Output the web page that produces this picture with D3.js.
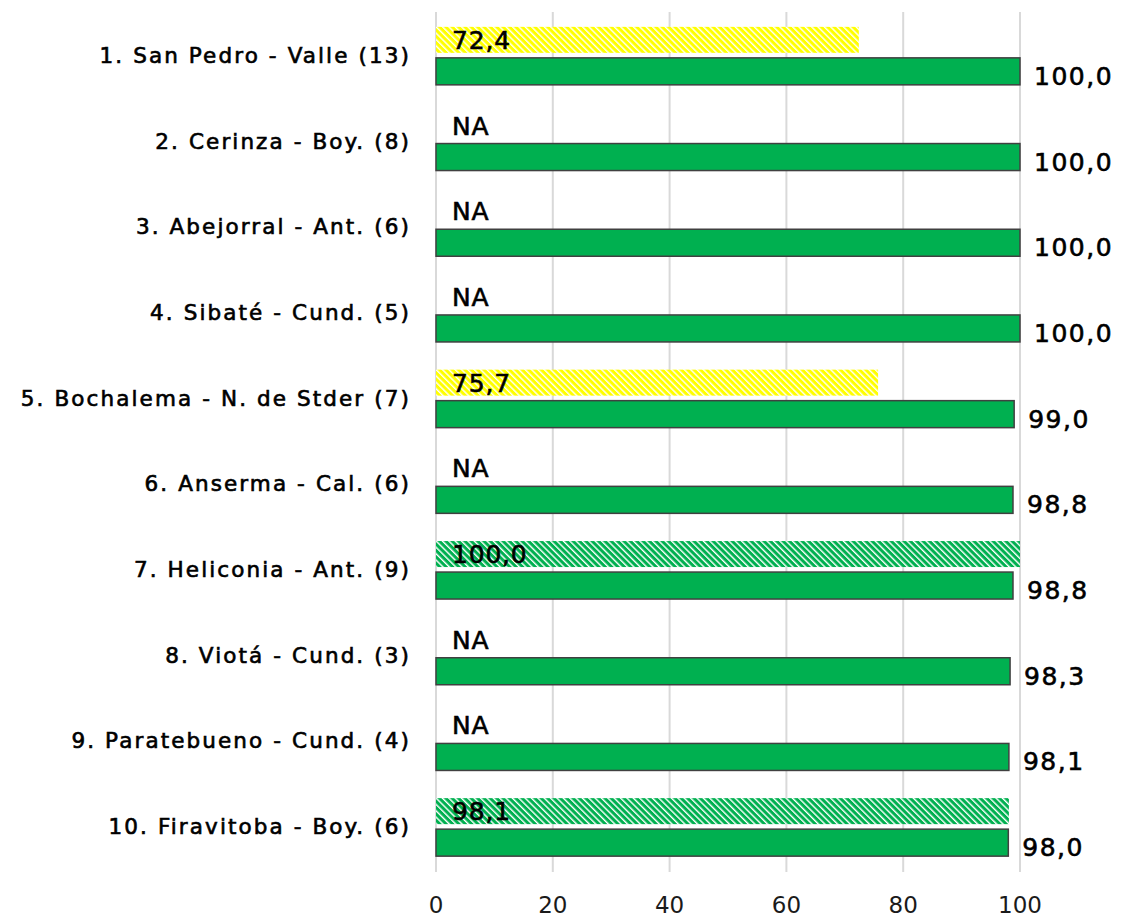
<!DOCTYPE html>
<html>
<head>
<meta charset="utf-8">
<script src="https://cdn.jsdelivr.net/npm/d3@7"></script>
<style>
  body { margin: 0; background: #fff; }
  text { font-family: "DejaVu Sans", "Open Sans", sans-serif; }
</style>
</head>
<body>
<svg width="1121" height="918"></svg>
<script>
var categories = ["1. San Pedro - Valle (13)", "2. Cerinza - Boy. (8)", "3. Abejorral - Ant. (6)",
  "4. Sibaté - Cund. (5)", "5. Bochalema - N. de Stder (7)", "6. Anserma - Cal. (6)",
  "7. Heliconia - Ant. (9)", "8. Viotá - Cund. (3)", "9. Paratebueno - Cund. (4)", "10. Firavitoba - Boy. (6)"];
var mainValues = [100.0, 100.0, 100.0, 100.0, 99.0, 98.8, 98.8, 98.3, 98.1, 98.0];
var prevValues = [72.4, null, null, null, 75.7, null, 100.0, null, null, 98.1];
var prevColors = ["yellow", null, null, null, "yellow", null, "green", null, null, "green"];
var ticks = [0, 20, 40, 60, 80, 100];

var svg = d3.select("svg"),
    margin = {top: 15, right: 101, bottom: 46, left: 436},
    width = +svg.attr("width") - margin.left - margin.right,
    height = +svg.attr("height") - margin.top - margin.bottom;

var fmt = function(v) { return d3.format(".1f")(v).replace(".", ","); };

// hatch patterns
var defs = svg.append("defs");
function hatch(id, color) {
  var p = defs.append("pattern")
      .attr("id", id)
      .attr("patternUnits", "userSpaceOnUse")
      .attr("width", 4.5).attr("height", 4.5)
      .attr("patternTransform", "rotate(-45)");
  p.append("rect").attr("width", 4.5).attr("height", 4.5).attr("fill", color);
  p.append("rect").attr("x", 0).attr("width", 1.4).attr("height", 4.5).attr("fill", "#fff");
}
hatch("hatch-yellow", "#ffff00");
hatch("hatch-green", "#00b050");

var x = d3.scaleLinear().domain([0, 100]).range([0, width]);
var y = d3.scaleBand().domain(categories).range([0, height]);

var g = svg.append("g")
    .attr("transform", "translate(" + margin.left + "," + margin.top + ")");

// grid
g.selectAll(".grid").data(ticks).enter().append("line")
    .attr("x1", function(d) { return x(d); })
    .attr("x2", function(d) { return x(d); })
    .attr("y1", -3).attr("y2", height)
    .attr("stroke", "#d9d9d9").attr("stroke-width", 2);

// x axis labels
g.selectAll(".tick-label").data(ticks).enter().append("text")
    .attr("x", function(d) { return x(d); })
    .attr("y", height + 41)
    .attr("text-anchor", "middle")
    .attr("font-family", "Open Sans")
    .attr("font-size", 23)
    .attr("fill", "#1a1a1a")
    .text(function(d) { return d; });

var barH = 26;

var rows = categories.map(function(c, i) {
  return {cat: c, main: mainValues[i], prev: prevValues[i], color: prevColors[i]};
});

var row = g.selectAll(".row").data(rows).enter().append("g")
    .attr("transform", function(d) { return "translate(0," + y(d.cat) + ")"; });

var mid = y.bandwidth() / 2;

// hatched (previous) bars
row.filter(function(d) { return d.prev != null; }).append("rect")
    .attr("x", 0)
    .attr("y", mid - barH - 5)
    .attr("width", function(d) { return x(d.prev); })
    .attr("height", barH)
    .attr("fill", function(d) { return "url(#hatch-" + d.color + ")"; });

// main bars
row.append("rect")
    .attr("x", 0)
    .attr("y", mid)
    .attr("width", function(d) { return x(d.main); })
    .attr("height", barH + 1)
    .attr("fill", "#00b050")
    .attr("stroke", "#404040")
    .attr("stroke-width", 1.5);

// previous labels
row.append("text")
    .attr("x", 16)
    .attr("y", mid - 9)
    .attr("font-size", 25)
    .attr("letter-spacing", 0.8)
    .attr("fill", "#000")
    .attr("stroke", "#000").attr("stroke-width", 0.6)
    .text(function(d) { return d.prev == null ? "NA" : fmt(d.prev); });

// main value labels
row.append("text")
    .attr("x", function(d) { return x(d.main) + 14; })
    .attr("y", mid + barH + 1)
    .attr("font-size", 25)
    .attr("letter-spacing", 1.5)
    .attr("fill", "#000")
    .attr("stroke", "#000").attr("stroke-width", 0.6)
    .text(function(d) { return fmt(d.main); });

// category labels
row.append("text")
    .attr("x", -25)
    .attr("y", mid + 5)
    .attr("text-anchor", "end")
    .attr("font-size", 21.5)
    .attr("letter-spacing", 2.1)
    .attr("fill", "#000")
    .attr("stroke", "#000").attr("stroke-width", 0.65)
    .text(function(d) { return d.cat; });
</script>
</body>
</html>
